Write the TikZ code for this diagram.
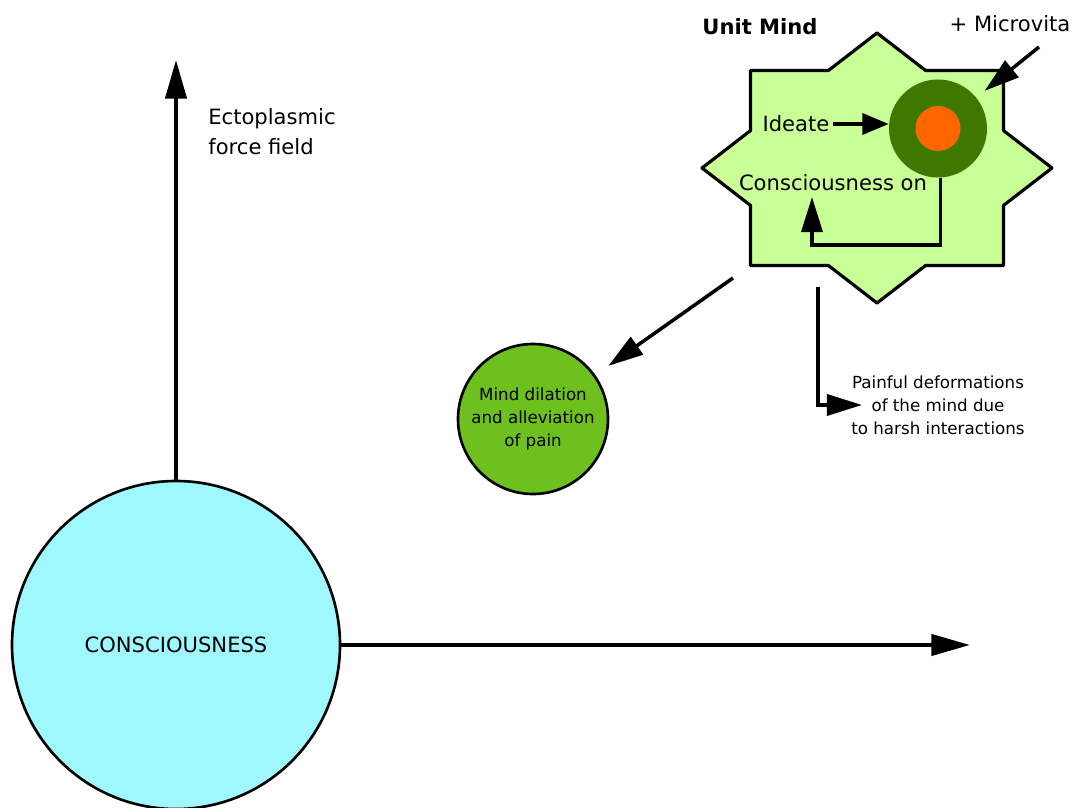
\documentclass[tikz,border=0pt]{standalone}
\usepackage{fontspec}
\setmainfont{DejaVu Sans}
\usetikzlibrary{arrows.meta}
\definecolor{conscyan}{HTML}{A0F8FF}
\definecolor{mindgreen}{HTML}{C8FF96}
\definecolor{microgreen}{HTML}{3F7800}
\definecolor{microorange}{HTML}{FF6600}
\definecolor{dilationgreen}{HTML}{6EC01E}

\begin{document}
\begin{tikzpicture}[scale=0.2,
	axis/.style={line width=2.3pt,-{Triangle[length=22pt,width=12pt]}},
	arr/.style={line width=2pt,-{Triangle[length=20pt,width=12pt]}},
	txt/.style={font=\fontsize{12}{17}\selectfont,align=left},
	small/.style={font=\fontsize{9.5}{13}\selectfont,align=center}]
	\tikzstyle{every node}+=[inner sep=0pt]
	\useasboundingbox (0,0) rectangle (107.5,-80.8);
	% consciousness and its two axes
	\node [circle,draw,line width=1.5pt,fill=conscyan,minimum size=6.56cm,font=\fontsize{12}{14}\selectfont] (conscious) at (17.6,-64.5) {CONSCIOUSNESS};
	\coordinate (ectotop) at (17.6,-6);
	\coordinate (axisend) at (97,-64.5);
	\draw [axis] (conscious.north) -- (ectotop);
	\draw [axis] (conscious.east) -- (axisend);
	\node [txt,anchor=west] (ecto) at (20.8,-13.2) {Ectoplasmic\\force field};
	% unit mind star
	\begin{scope}[shift={(87.7,-16.8)}]
	\draw [line width=1.8pt,line join=round,fill=mindgreen] (0,13.5) -- (4.86,9.75) -- (12.65,9.75) -- (12.65,3.74) -- (17.5,0) -- (12.65,-3.74) -- (12.65,-9.75) -- (4.86,-9.75) -- (0,-13.5) -- (-4.86,-9.75) -- (-12.65,-9.75) -- (-12.65,-3.74) -- (-17.5,0) -- (-12.65,3.74) -- (-12.65,9.75) -- (-4.86,9.75) -- cycle;
	\end{scope}
	\node [txt,font=\fontsize{12}{14}\selectfont\bfseries] (unitmind) at (76.0,-2.7) {Unit Mind};
	\node [txt] (microvita) at (101.0,-2.4) {+ Microvita};
	\node [circle,fill=microgreen,minimum size=1.96cm] (outer) at (93.8,-12.85) {};
	\node [circle,fill=microorange,minimum size=0.9cm] (inner) at (93.8,-12.85) {};
	\node [txt] (ideate) at (79.6,-12.4) {Ideate};
	\node [txt] (conson) at (83.3,-18.3) {Consciousness on};
	\coordinate (mvtail) at (103.9,-4.7);
	\coordinate (loopend) at (81.2,-19.7);
	\draw [arr] (mvtail) -- (outer) [shorten >=6pt];
	\draw [arr,-{Triangle[length=15pt,width=12pt]}] ([xshift=9pt]ideate.east) -- (ideate.east -| outer.west);
	\draw [arr] ([xshift=0.24cm]outer.south) -- ++(0,-6.7) -| (loopend);
	% outcomes
	\node [circle,draw,line width=1.5pt,fill=dilationgreen,minimum size=3.0cm,small] (dilation) at (53.3,-41.9) {Mind dilation\\and alleviation\\of pain};
	\node [small] (pain) at (93.8,-40.5) {Painful deformations\\of the mind due\\to harsh interactions};
	\coordinate (dilstart) at (73.3,-27.8);
	\coordinate (painstart) at (81.8,-28.7);
	\coordinate (painend) at (86.2,-40.5);
	\draw [arr,shorten >=9pt] (dilstart) -- (dilation);
	\draw [arr] (painstart) |- (painend);
\end{tikzpicture}
\end{document}
